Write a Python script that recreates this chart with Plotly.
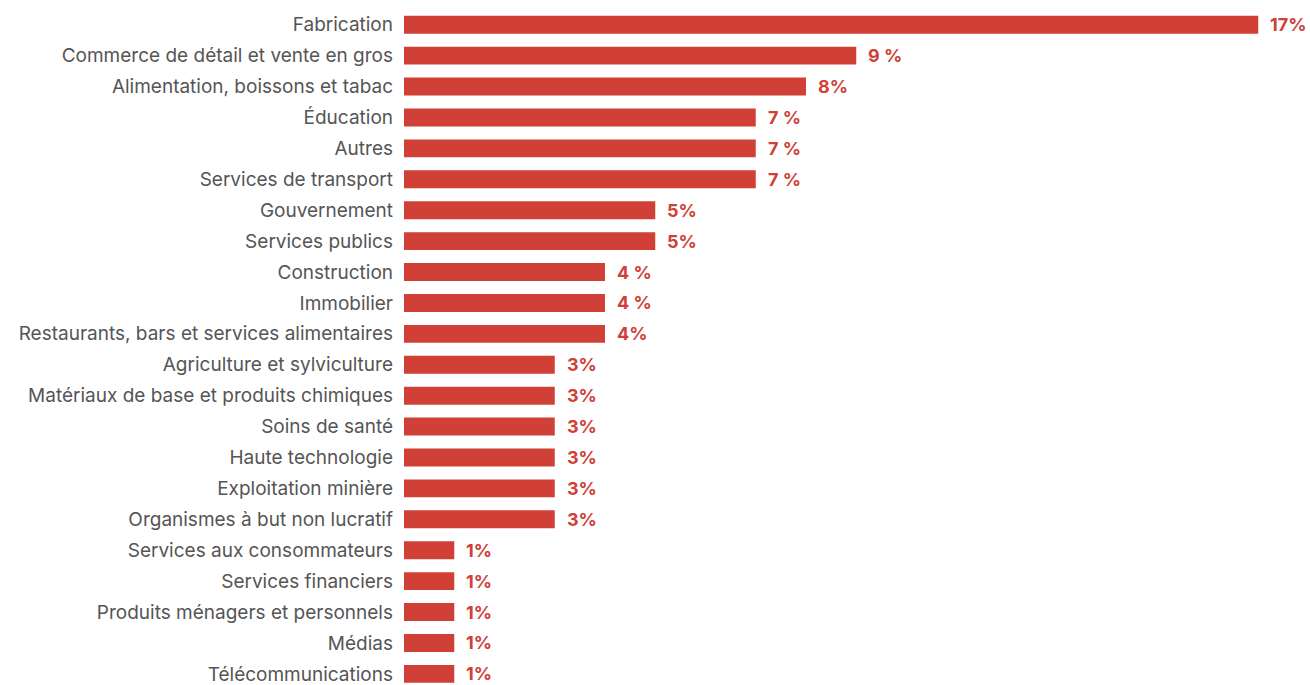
import plotly.graph_objects as go

# Sectors, top to bottom
sectors = [
    "Fabrication",
    "Commerce de détail et vente en gros",
    "Alimentation, boissons et tabac",
    "Éducation",
    "Autres",
    "Services de transport",
    "Gouvernement",
    "Services publics",
    "Construction",
    "Immobilier",
    "Restaurants, bars et services alimentaires",
    "Agriculture et sylviculture",
    "Matériaux de base et produits chimiques",
    "Soins de santé",
    "Haute technologie",
    "Exploitation minière",
    "Organismes à but non lucratif",
    "Services aux consommateurs",
    "Services financiers",
    "Produits ménagers et personnels",
    "Médias",
    "Télécommunications",
]

# Share per sector (%)
shares = [17, 9, 8, 7, 7, 7, 5, 5, 4, 4, 4, 3, 3, 3, 3, 3, 3, 1, 1, 1, 1, 1]

# Value labels as printed next to each bar
share_labels = [
    "17%", "9 %", "8%", "7 %", "7 %", "7 %", "5%", "5%", "4 %", "4 %", "4%",
    "3%", "3%", "3%", "3%", "3%", "3%", "1%", "1%", "1%", "1%", "1%",
]

BAR_COLOR = "#D04037"
LABEL_GREY = "#555555"
FONT = "Inter"

fig = go.Figure(
    go.Bar(
        x=shares,
        y=sectors,
        orientation="h",
        marker=dict(color=BAR_COLOR, line=dict(width=0)),
        hoverinfo="skip",
    )
)

for sector, value, label in zip(sectors, shares, share_labels):
    fig.add_annotation(
        x=value,
        y=sector,
        text=f"<b>{label}</b>",
        showarrow=False,
        xanchor="left",
        yanchor="middle",
        xshift=10,
        font=dict(family=FONT, size=18, color=BAR_COLOR),
    )

n = len(sectors)
fig.update_layout(
    width=1310,
    height=685,
    margin=dict(l=404, r=0, t=0, b=0),
    paper_bgcolor="white",
    plot_bgcolor="white",
    bargap=0.42,
    showlegend=False,
    font=dict(family=FONT, size=19, color=LABEL_GREY),
    xaxis=dict(
        range=[0, 18.03],
        visible=False,
        fixedrange=True,
    ),
    yaxis=dict(
        type="category",
        categoryorder="array",
        categoryarray=sectors,
        range=[n - 1 + 0.36, -0.8],
        showgrid=False,
        zeroline=False,
        showline=False,
        ticks="",
        ticklabelstandoff=10,
        tickfont=dict(family=FONT, size=19, color=LABEL_GREY),
        fixedrange=True,
    ),
)

fig.write_html("out.html")
